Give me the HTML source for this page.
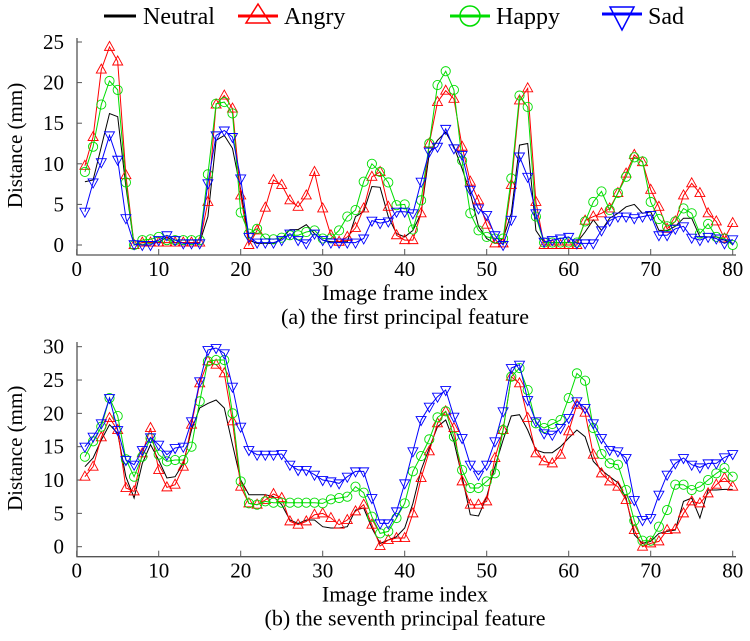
<!DOCTYPE html>
<html><head><meta charset="utf-8"><style>
body{margin:0;background:#fff}
svg{font-family:"Liberation Serif",serif}
</style></head><body>
<svg id="c" width="750" height="636">
<g id="legend">
<line x1="104" y1="16" x2="136" y2="16" stroke="#000" stroke-width="3"/>
<text x="143" y="24" font-size="24">Neutral</text>
<line x1="238" y1="16" x2="278" y2="16" stroke="#f00" stroke-width="3"/>
<path d="M258,4 L270,23 L246,23 Z" fill="none" stroke="#f00" stroke-width="1.5"/>
<text x="284" y="24" font-size="24">Angry</text>
<line x1="450" y1="16" x2="490" y2="16" stroke="#0d0" stroke-width="3"/>
<circle cx="470" cy="16" r="10" fill="none" stroke="#0d0" stroke-width="1.5"/>
<text x="496" y="24" font-size="24">Happy</text>
<line x1="602" y1="14" x2="642" y2="14" stroke="#00f" stroke-width="3"/>
<path d="M610,7 L634,7 L622,30 Z" fill="none" stroke="#00f" stroke-width="1.5"/>
<text x="648" y="24" font-size="24">Sad</text>
</g>
</svg>
<script>
const neutralA=[7.8,8,12.1,16.2,15.8,7.2,0,0.3,0.3,0.3,1,0.3,0.3,0.3,0.3,3.5,12.9,13.5,11.9,6.8,0.6,0.2,0.2,0.2,0.8,1.9,1.9,2.5,1.4,0.6,0.4,0.4,0.4,3.5,4.1,7.2,7.1,3.5,1.4,1,1.8,3.9,11.3,12.9,13.9,12.1,9.4,6.4,2.3,0.8,0.2,0.8,3.9,12.3,12.5,1.8,0.3,0.3,0.3,0.3,0.3,1.6,3.1,1.8,3.3,3.9,4.7,5,3.9,4.1,1.8,1.8,2.3,3.3,3.3,1,1,1,0.6,0.2];
const angryA=[9.75,13.3,21.6,24.4,22.6,8.6,0,0.3,0.3,0.3,0.3,0.3,0.3,0.3,0.3,5.3,17.3,18.4,16.8,6.1,0,1.8,4.6,8,7.4,5.5,4.7,6.1,9,4.5,1.2,0.4,1,2.1,4.5,8.4,9,4.7,1.2,0.6,0.6,3.9,12.5,17.6,19,18,12.1,7.8,5.5,2.5,0.2,0.2,7.4,17.8,19.3,5.3,0,0,0,0,0,3,3.5,3.9,4.5,6.4,8.8,11.1,10.2,6.8,4.7,2,2.9,6.1,7.6,6.4,3.9,2.9,0.8,2.7];
const happyA=[9,12.1,17.3,20.2,19.1,7.7,0,0.6,0.7,1,0.6,0.6,0.6,0.6,0.6,8.7,17.4,17.6,16.2,4,1.4,2,0.8,0.7,0.9,1.2,1.2,1.6,1.8,0.8,0.8,1.8,3.5,4.3,7.8,10,9,7.7,4.9,5,1.9,5.5,12.5,19.7,21.4,19.1,10.4,3.9,1.8,1,0.8,0.8,8.2,18.4,17,3.5,0.3,0.3,0.3,0.3,0.3,2.9,5.3,6.6,4.3,6.4,8.4,10.8,10.3,5.3,3.2,2.3,2.9,4.5,3.9,1.4,2.6,1,0.8,0];
const sadA=[4.1,7.7,10.2,13.5,10.5,3.3,0.1,0,0,0.6,1.2,0.6,0.2,0.2,0.2,7.6,13.5,14.1,13.3,8.2,1,0.3,0.3,0.3,0.6,1.4,0.6,0.2,1.4,0.6,0.3,0.3,0.3,0.3,0.8,3,2.7,2.9,4.1,4.1,3.9,7.8,11.5,12.1,14.3,11.9,11.1,6.8,4.5,3.7,1.2,0,3.1,10.9,8.4,3.9,0.4,0.6,0.8,1,0.2,0.2,0.2,1.8,3,3.5,3.5,3.3,3.5,3.7,1.2,1.2,2,2.3,0.9,0.6,1,0.8,0.2,0.7];
const neutralB=[12,13.3,16,18.3,17,10.5,7.3,12.5,15.3,13,10.3,10.5,12.5,17.5,20.8,21.5,22,20.8,15.3,10,7.8,7.8,7.8,7.5,6.3,4,3.5,4,4,3,2.8,2.8,3,5.5,5.8,2.8,0.5,1,1.5,2.8,6.5,11.5,14.8,18,19,15.8,10.5,4.8,4.6,7.5,12,16,19.6,19.8,17.5,14.5,14.1,14.1,15,16.3,17.5,16.5,12.8,11.5,10.5,9.6,7.3,1.8,0.5,0.8,2,2.3,2.5,6.8,7.3,4.3,8.5,8.5,8.6,8.6];
const angryB=[10.5,12,16.4,19.3,17.5,8.8,8.3,14,17.8,11.5,8.9,9.3,12,18.3,24.5,27.8,27.3,26,18.8,9,6.5,6.3,7,7.9,7.3,3.8,3.3,3.8,4.8,5,4.3,3.3,4,5.3,6.3,3.3,0.1,1,1.3,1.3,5,10.3,14.3,18.5,20.3,17.8,9.8,6.3,6.3,6.8,13.3,17.5,25.5,24.5,19.3,14,12.8,12.5,13.8,17.3,21.3,20.1,13.8,11,9.8,9,7,2.5,0,0.5,0.8,2.5,2.6,5,6.8,6.5,8,9.3,10.3,9];
const happyB=[13.5,15.8,18,22.3,19.6,13.1,10.5,13.5,16.3,13.8,12.8,13,13,15,21.8,27.8,28,28,20,9.8,6.5,6.3,6.8,6.6,6.6,6.6,6.6,6.6,6.6,6.5,7.1,7.3,7.5,9,8.1,4.5,2,2.3,4.3,6.5,11.3,13.6,16.1,19.4,20.3,16.5,11.5,8.8,8.8,9.8,11,17.5,25.5,26.8,23.5,18.5,17.8,18.4,19,22.3,26,24.9,17.8,13.9,12.5,12.3,8.5,3.9,0.9,0.9,3,5.5,9.3,9.3,8.5,9,10,11,11.8,10.5];
const sadB=[15,16.5,18.5,22.3,17.5,13,12.3,14.5,16.4,15.3,13.8,14.8,15,18.8,24.8,29.5,29.8,29,24,18,14.5,13.8,13.8,13.8,13.9,12.3,11.5,11.5,10.8,10,9.8,9.5,10.5,11.3,11.3,7.3,3.5,3.5,5.3,9.5,14.3,19,21,22.5,23.5,19.5,16.3,12.3,10.8,12.3,15.8,20.3,26.8,27.3,22,18.8,17,16.8,17.8,19.3,21.8,20.8,18.5,16.3,14.5,14.3,13.3,7,4,4.3,7.8,10.8,12.5,13.3,12.3,11.9,12.5,12.5,13.4,13.9];
const xTicks=[0,10,20,30,40,50,60,70,80];
const yTicksA=[0,5,10,15,20,25];
const yTicksB=[0,5,10,15,20,25,30];

const NS="http://www.w3.org/2000/svg";
const svg=document.getElementById('c');
function mk(tag,attrs,parent){const e=document.createElementNS(NS,tag);for(const k in attrs)e.setAttribute(k,attrs[k]);(parent||svg).appendChild(e);return e;}
const xs=i=>76.7+8.2*i;
function panel(p,y0,pxPerUnit,yTicks,series,title,yTop){
  const ys=v=>y0-v*pxPerUnit;
  const ab=y0+10;
  const g=mk('g',{});
  
  
  const ax=mk('path',{d:`M77,${yTop} V${ab} H736`,fill:'none',stroke:'#555','stroke-width':1.3},g);
  
  
  xTicks.forEach(t=>{
    mk('line',{x1:xs(t),x2:xs(t),y1:ab,y2:ab-6,stroke:'#555'},g);
    const tx=mk('text',{x:xs(t),y:y0+31,'font-size':21,'text-anchor':'middle'},g);
    tx.textContent=t;
    
    
  });
  yTicks.forEach(t=>{
    mk('line',{x1:77,x2:82,y1:ys(t),y2:ys(t),stroke:'#555'},g);
    const tx=mk('text',{x:64,y:ys(t)+7,'font-size':21,'text-anchor':'end'},g);
    tx.textContent=t;
    
    
  });
  const yl=mk('text',{x:0,y:0,'font-size':21,'text-anchor':'middle',transform:`translate(22,${(yTop+y0)/2+4}) rotate(-90)`},g);
  yl.textContent='Distance (mm)';
  
  
  const xl=mk('text',{x:405,y:y0+55,'font-size':22,'text-anchor':'middle'},g);
  xl.textContent='Image frame index';
  
  
  const tt=mk('text',{x:405,y:y0+79,'font-size':22,'text-anchor':'middle'},g);
  tt.textContent=title;
  
  
  series.forEach(s=>{
    const sg=mk('g',{},g);
    
    
    const pts=s.data.map((v,i)=>xs(i+1).toFixed(1)+','+ys(v).toFixed(1)).join(' ');
    const pl=mk('polyline',{points:pts,fill:'none',stroke:s.color,'stroke-width':1},sg);
    
    
    if(!s.marker)return;
    s.data.forEach((v,i)=>{
      const x=xs(i+1),y=ys(v);let m;
      if(s.marker==='tri')m=mk('path',{d:`M${x},${y-5.5} L${x+5},${y+3.5} L${x-5},${y+3.5} Z`,fill:'none',stroke:s.color,'stroke-width':0.9},sg);
      else if(s.marker==='circ')m=mk('circle',{cx:x,cy:y,r:4.6,fill:'none',stroke:s.color,'stroke-width':0.9},sg);
      else m=mk('path',{d:`M${x-5},${y-3.5} L${x+5},${y-3.5} L${x},${y+5.5} Z`,fill:'none',stroke:s.color,'stroke-width':0.9},sg);
      
      
    });
  });
}
panel('a',245,8.12,yTicksA,[
  {name:'neutral',data:neutralA,color:'#000'},
  {name:'angry',data:angryA,color:'#f00',marker:'tri'},
  {name:'happy',data:happyA,color:'#0d0',marker:'circ'},
  {name:'sad',data:sadA,color:'#00f',marker:'inv'}],'(a) the first principal feature',38);
panel('b',546.7,6.667,yTicksB,[
  {name:'neutral',data:neutralB,color:'#000'},
  {name:'angry',data:angryB,color:'#f00',marker:'tri'},
  {name:'happy',data:happyB,color:'#0d0',marker:'circ'},
  {name:'sad',data:sadB,color:'#00f',marker:'inv'}],'(b) the seventh principal feature',342);
</script>
</body></html>
